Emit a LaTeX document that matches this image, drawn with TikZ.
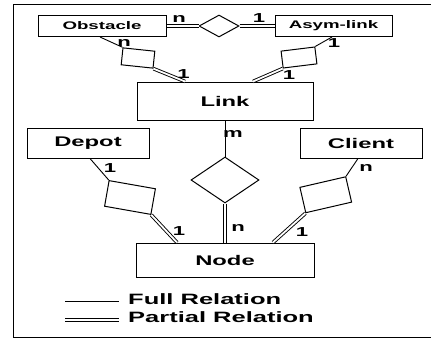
\documentclass[tikz,border=0pt]{standalone}
\usepackage{fontspec}
\setmainfont{Liberation Sans}[FakeStretch=1.7]
\usetikzlibrary{shapes.geometric,calc}
\begin{document}
\begin{tikzpicture}[x=1pt,y=1pt,
  entity/.style={draw, line width=1pt, inner sep=0pt, font=\bfseries\fontsize{14}{16}\selectfont},
  smallentity/.style={entity, font=\bfseries\fontsize{11}{13}\selectfont},
  relbox/.style={draw, line width=1pt, inner sep=0pt},
  reldiamond/.style={diamond, draw, line width=1pt, inner sep=0pt},
  full/.style={line width=0.9pt},
  partial/.style={double, double distance=1.8pt, line width=0.9pt},
  card/.style={font=\bfseries\fontsize{13}{15}\selectfont, inner sep=0pt},
  legendtext/.style={font=\bfseries\fontsize{15}{17}\selectfont, anchor=west, inner sep=0pt}]

\useasboundingbox (0,0) rectangle (431,341);
% outer frame, running off the right-hand side
\draw[line width=1pt] (432,336) -- (13,336) -- (13,4) -- (432,4);

% entities
\node[smallentity, minimum width=128pt, minimum height=21pt] (obs) at (102,315) {Obstacle};
\node[smallentity, minimum width=117pt, minimum height=21pt] (asym) at (333.5,315) {Asym-link};
\node[entity, minimum width=176pt, minimum height=38pt] (link) at (225,240) {Link};
\node[entity, minimum width=122pt, minimum height=30pt] (depot) at (88,198) {Depot};
\node[entity, minimum width=122pt, minimum height=30pt] (client) at (361,198) {Client};
\node[entity, minimum width=178pt, minimum height=34pt] (node) at (225,81) {Node};

% relationships
\node[reldiamond, minimum width=40pt, minimum height=22pt] (topd) at (219,315) {};
\node[reldiamond, minimum width=68pt, minimum height=46pt] (midd) at (225,161) {};
\node[relbox, minimum width=32pt, minimum height=17pt, rotate=-6] (relo) at (138,283) {};
\node[relbox, minimum width=34pt, minimum height=17pt, rotate=7] (rela) at (299,283.5) {};
\node[relbox, minimum width=47pt, minimum height=26pt, rotate=-10] (reld) at (130,143.5) {};
\node[relbox, minimum width=47pt, minimum height=26pt, rotate=13] (relc) at (325.75,146.25) {};

% connectors
\draw[partial] (obs.east) -- (topd.west);
\draw[partial] (topd.east) -- (asym.west);
\draw[full] ($(obs.south)+(-2,0)$) -- (relo.north west);
\draw[partial] (relo.south east) -- ($(link.north)+(-40,0)$);
\draw[full] (rela.north east) -- ($(asym.south)+(-1.5,0)$);
\draw[partial] (rela.south west) -- ($(link.north)+(28,0)$);
\draw[full] (link.south) -- (midd.north);
\draw[partial] (midd.south) -- (node.north);
\draw[full] ($(depot.south)+(2,0)$) -- (reld.north west);
\draw[partial] (reld.south east) -- ($(node.north)+(-48,0)$);
\draw[full] ($(client.south)+(-3,0)$) -- (relc.north east);
\draw[partial] (relc.south west) -- ($(node.north)+(48,0)$);

% cardinalities
\node[card] (k1) at (179,322) {n};
\node[card] (k2) at (259,323) {1};
\node[card] (k3) at (124,298) {n};
\node[card] (k4) at (183.5,267) {1};
\node[card] (k5) at (334,298) {1};
\node[card] (k6) at (289,266) {1};
\node[card] (k7) at (233,207) {m};
\node[card] (k8) at (110,173) {1};
\node[card] (k9) at (366,173) {n};
\node[card] (k10) at (179,110) {1};
\node[card] (k11) at (238,113) {n};
\node[card] (k12) at (302,109) {1};

% legend
\coordinate (fa) at (65,40);
\coordinate (fb) at (119,40);
\draw[full] (fa) -- (fb);
\node[legendtext] (ft) at (128,42) {Full Relation};
\coordinate (pa) at (65,21);
\coordinate (pb) at (119,21);
\draw[partial] (pa) -- (pb);
\node[legendtext] (pt) at (128,23.5) {Partial Relation};
\end{tikzpicture}
\end{document}
